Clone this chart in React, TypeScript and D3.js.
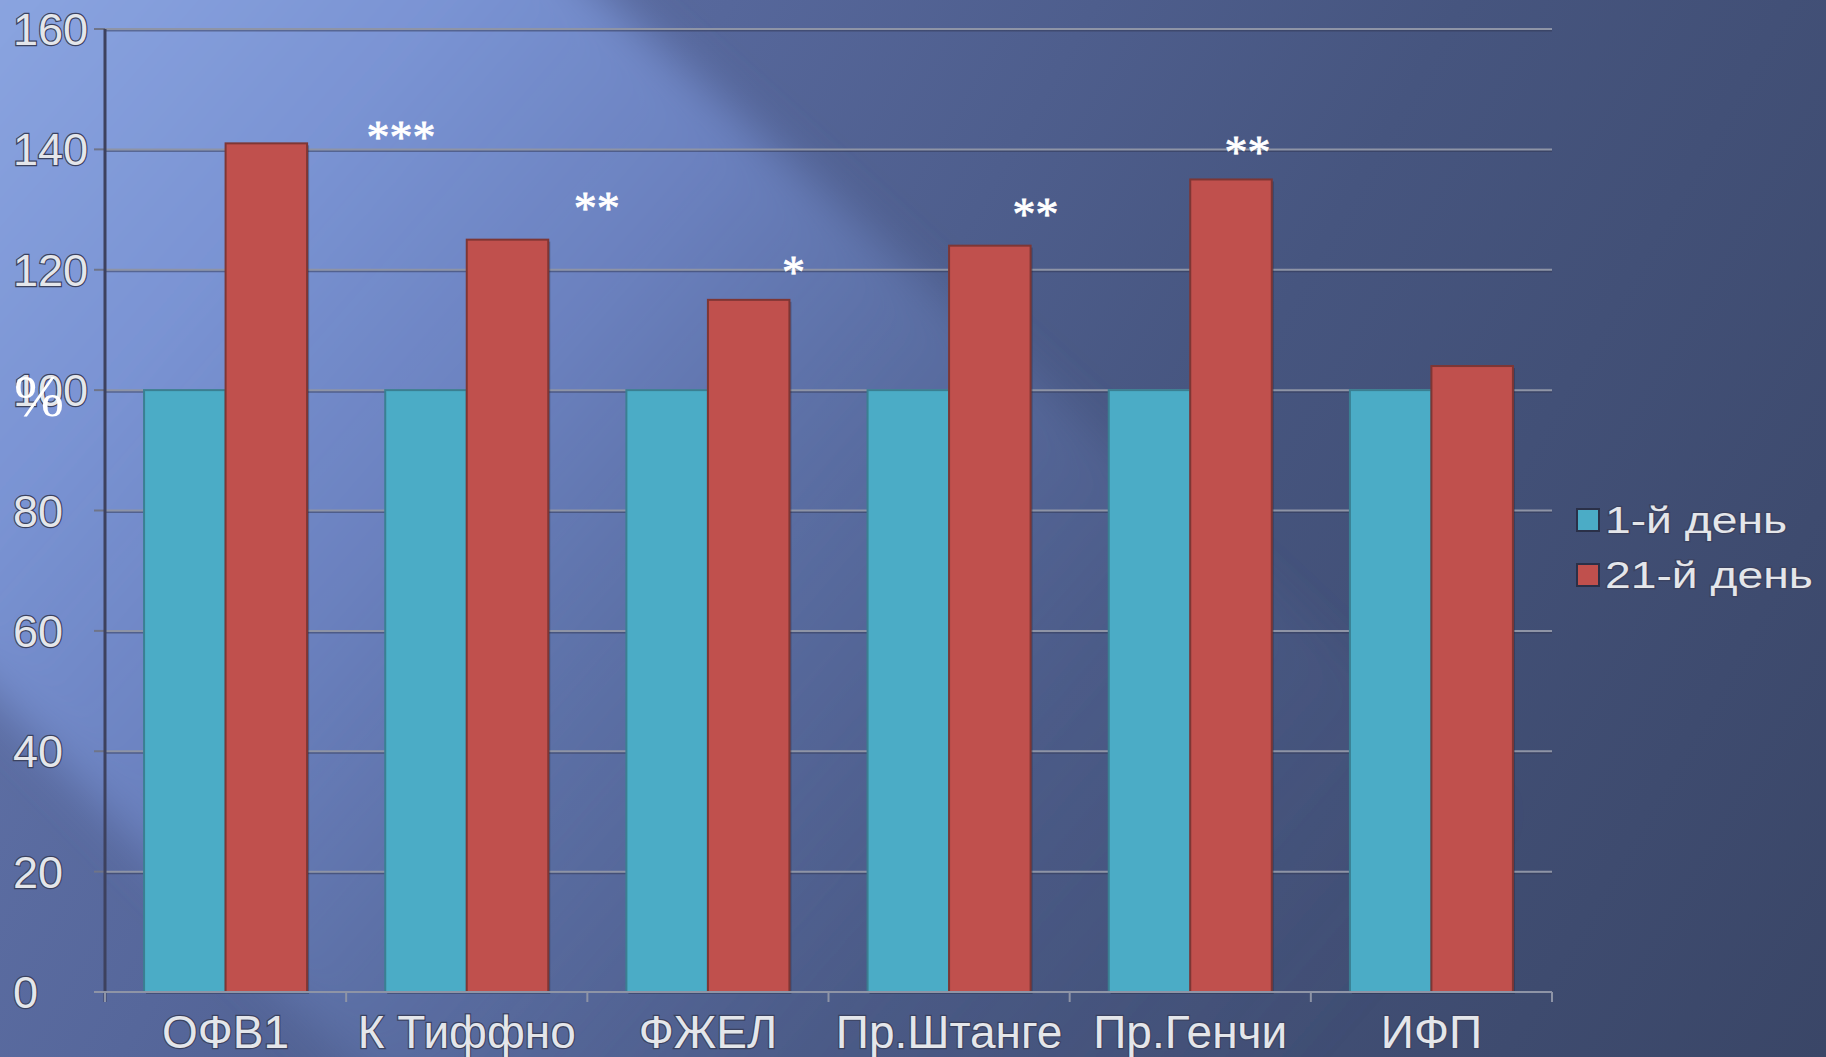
import { useMemo } from 'react'
import * as d3 from 'd3'

const categories = ['ОФВ1', 'К Тиффно', 'ФЖЕЛ', 'Пр.Штанге', 'Пр.Генчи', 'ИФП']
const seriesNames = ['1-й день', '21-й день']
const day1 = [100, 100, 100, 100, 100, 100]
const day21 = [141, 125, 115, 124, 135, 104]
const yTicks = [0, 20, 40, 60, 80, 100, 120, 140, 160]
// significance marks: position in category units (0 = left edge of first group) and value
const marks = [
  { text: '***', pos: 1.227, value: 143 },
  { text: '**', pos: 2.039, value: 131.3 },
  { text: '*', pos: 2.855, value: 120.6 },
  { text: '**', pos: 3.858, value: 130.3 },
  { text: '**', pos: 4.737, value: 140.6 },
]

const colors = ['#4bacc6', '#c0504d']
const width = 1826
const height = 1057

// light diagonal beam of the slide background
const beam: [number, number][] = [
  [-60, -60],
  [540, -60],
  [2000, 1234],
  [385, 1100],
  [-60, 640],
]

export default function App() {
  const margin = { left: 105, right: 274, top: 29, bottom: 65 }
  const x = useMemo(
    () =>
      d3
        .scaleBand<string>()
        .domain(categories)
        .range([margin.left, width - margin.right])
        .padding(0),
    [],
  )
  const bw = x.bandwidth()
  const xs = d3
    .scaleBand<string>()
    .domain(seriesNames)
    .range([bw * 0.162, bw * 0.838])
    .padding(0)
  const y = d3
    .scaleLinear()
    .domain([0, 160])
    .range([height - margin.bottom, margin.top])
  const posScale = d3
    .scaleLinear()
    .domain([0, categories.length])
    .range([margin.left, width - margin.right])

  const series = [day1, day21]
  const x0 = margin.left
  const x1 = width - margin.right
  const yBase = y(0)

  const labelStyle = {
    fontFamily: '"Liberation Sans", Arial, sans-serif',
    fill: '#e4e6ea',
    stroke: '#3b4260',
    strokeWidth: 2.4,
    paintOrder: 'stroke',
  } as const

  const beamPath = d3.line()(beam) + 'Z'

  return (
    <div style={{ position: 'absolute', left: 0, top: 0 }}>
      <svg width={width} height={height} style={{ display: 'block' }}>
        <defs>
          <linearGradient id="bg" gradientUnits="userSpaceOnUse" x1={0} y1={0} x2={1826} y2={1057}>
            <stop offset="0" stopColor="#6476ad" />
            <stop offset="0.3" stopColor="#56679b" />
            <stop offset="0.6" stopColor="#46557f" />
            <stop offset="1" stopColor="#3a4667" />
          </linearGradient>
          <linearGradient id="beamFill" gradientUnits="userSpaceOnUse" x1={0} y1={0} x2={1600} y2={1400}>
            <stop offset="0" stopColor="#8aa4e0" />
            <stop offset="0.16" stopColor="#7a93d3" />
            <stop offset="0.3" stopColor="#6d84c3" stopOpacity="0.9" />
            <stop offset="0.43" stopColor="#6379b2" stopOpacity="0.6" />
            <stop offset="0.6" stopColor="#5a6ca0" stopOpacity="0.25" />
            <stop offset="0.8" stopColor="#4f5f8e" stopOpacity="0" />
          </linearGradient>
          <filter id="soft" x="-20%" y="-20%" width="140%" height="140%">
            <feGaussianBlur stdDeviation="22" />
          </filter>
        </defs>
        <rect width={width} height={height} fill="url(#bg)" />
        <path d={beamPath} fill="url(#beamFill)" filter="url(#soft)" />

        {/* gridlines */}
        {yTicks
          .filter((t) => t > 0)
          .map((t) => (
            <g key={t}>
              <line x1={x0} x2={x1} y1={y(t) + 1.5} y2={y(t) + 1.5} stroke="#2f3552" strokeOpacity={0.5} strokeWidth={2} />
              <line x1={x0} x2={x1} y1={y(t)} y2={y(t)} stroke="#8e94a6" strokeWidth={2} />
            </g>
          ))}

        {/* y ticks + labels */}
        {yTicks.map((t) => (
          <g key={'yt' + t}>
            <line x1={x0 - 11} x2={x0} y1={y(t)} y2={y(t)} stroke="#6f7488" strokeWidth={2} />
            <text x={13} y={y(t) + 16} fontSize={45} {...labelStyle}>
              {t}
            </text>
          </g>
        ))}

        {/* bars */}
        {categories.map((c, i) => (
          <g key={c} transform={`translate(${x(c)},0)`}>
            {series.map((s, j) => {
              const bx = xs(seriesNames[j]) ?? 0
              const by = y(s[i])
              return (
                <g key={j}>
                  <rect
                    x={bx + 2}
                    y={by + 2}
                    width={xs.bandwidth()}
                    height={yBase - by}
                    fill="#1e2438"
                    opacity={0.35}
                  />
                  <rect
                    x={bx}
                    y={by}
                    width={xs.bandwidth()}
                    height={yBase - by}
                    fill={colors[j]}
                    stroke={j === 0 ? '#3a7f92' : '#7e3634'}
                    strokeWidth={2}
                  />
                </g>
              )
            })}
          </g>
        ))}

        {/* axes */}
        <line x1={x0} x2={x0} y1={margin.top} y2={yBase + 10} stroke="#3d415e" strokeWidth={3} />
        <line x1={x0 - 11} x2={x1} y1={yBase} y2={yBase} stroke="#8e94a6" strokeWidth={2} />
        {d3.range(categories.length + 1).map((k) => (
          <line
            key={'xt' + k}
            x1={posScale(k)}
            x2={posScale(k)}
            y1={yBase}
            y2={yBase + 10}
            stroke="#8e94a6"
            strokeWidth={2}
          />
        ))}

        {/* category labels */}
        {categories.map((c) => (
          <text
            key={'cl' + c}
            x={(x(c) ?? 0) + bw / 2}
            y={1048}
            fontSize={46}
            textAnchor="middle"
            {...labelStyle}
          >
            {c}
          </text>
        ))}

        {/* significance marks */}
        {marks.map((m, i) => (
          <text
            key={'m' + i}
            x={posScale(m.pos)}
            y={y(m.value) + 22}
            fontSize={46}
            textAnchor="middle"
            fill="#ffffff"
            stroke="#ffffff"
            strokeWidth={0.8}
            fontFamily='"Liberation Serif", "Times New Roman", serif'
          >
            {m.text}
          </text>
        ))}

        {/* axis title */}
        <text
          x={14}
          y={416}
          fontSize={60}
          fill="#ffffff"
          fontFamily='"Liberation Serif", "Times New Roman", serif'
        >
          %
        </text>

        {/* legend */}
        {seriesNames.map((n, j) => (
          <g key={'lg' + n} transform={`translate(1577,${509 + j * 55})`}>
            <rect width={22} height={22} fill={colors[j]} stroke="#2a3048" strokeWidth={2} />
            <text
              transform="translate(28,24) scale(1.25,1)"
              fontSize={37}
              {...labelStyle}
            >
              {n}
            </text>
          </g>
        ))}
      </svg>
    </div>
  )
}
